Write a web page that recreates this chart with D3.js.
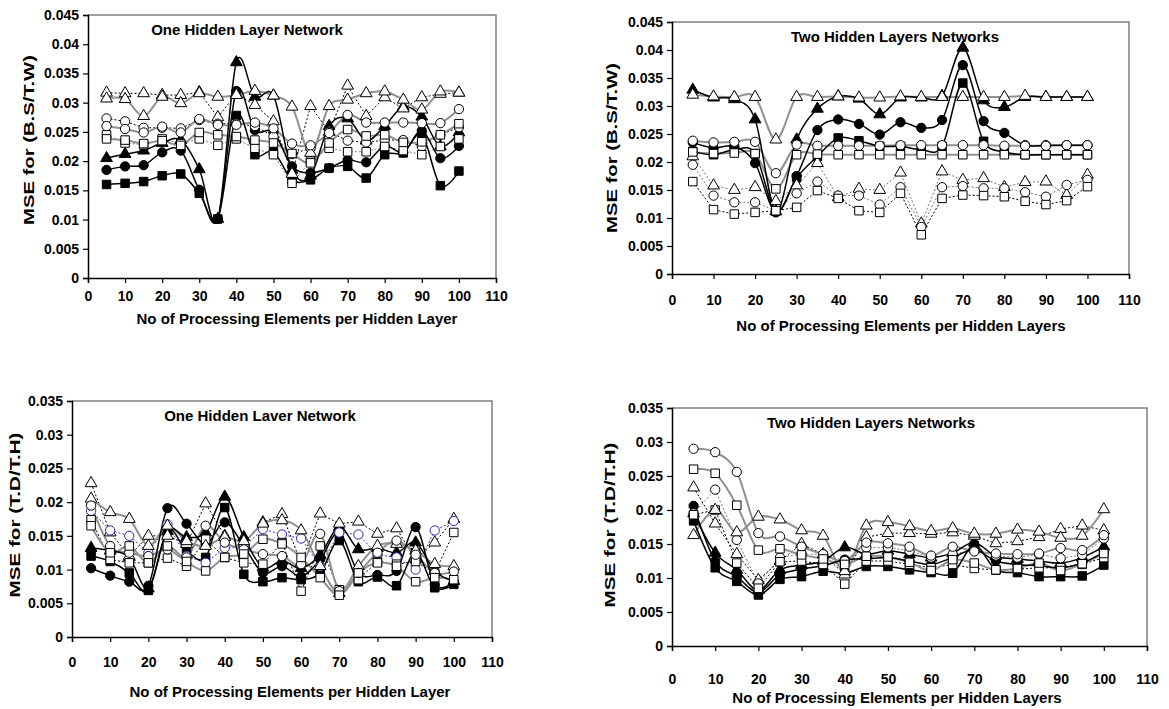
<!DOCTYPE html>
<html>
<head>
<meta charset="utf-8">
<script src="https://cdn.jsdelivr.net/npm/d3@7"></script>
<style>
  body { margin: 0; background: #fff; }
  svg { display: block; font-family: "Liberation Sans", Arial, sans-serif; }
</style>
</head>
<body>
<div id="chart"></div>
<script>
// processing elements per hidden layer
const pe = [5, 10, 15, 20, 25, 30, 35, 40, 45, 50, 55, 60, 65, 70, 75, 80, 85, 90, 95, 100];

// panel 1: B.S/T.W, one hidden layer
const bsOneFilledTri = [.0205,.0212,.0218,.0231,.0236,.0186,.0101,.0369,.0310,.0312,.0185,.0175,.0260,.0273,.0235,.0260,.0293,.0276,.0225,.0249];
const bsOneFilledCir = [.0185,.0191,.0193,.0215,.0218,.0151,.0101,.0320,.0253,.0250,.0191,.0180,.0188,.0202,.0198,.0226,.0215,.0252,.0205,.0226];
const bsOneFilledSq  = [.0160,.0162,.0165,.0175,.0178,.0145,.0101,.0278,.0211,.0216,.0168,.0168,.0188,.0191,.0171,.0211,.0214,.0245,.0158,.0183];
const bsOneGrayTri   = [.0307,.0306,.0277,.0310,.0299,.0316,.0310,.0313,.0320,.0312,.0293,.0214,.0294,.0305,.0316,.0319,.0305,.0288,.0319,.0317];
const bsOneGrayCir   = [.0260,.0255,.0249,.0259,.0249,.0272,.0262,.0262,.0266,.0256,.0230,.0227,.0248,.0279,.0266,.0266,.0266,.0265,.0265,.0289];
const bsOneGraySq    = [.0238,.0236,.0230,.0235,.0227,.0249,.0245,.0242,.0236,.0231,.0213,.0197,.0231,.0254,.0243,.0245,.0232,.0233,.0245,.0264];
const bsOneDotTri    = [.0317,.0316,.0316,.0313,.0313,.0318,.0275,.0315,.0296,.0268,.0178,.0294,.0250,.0329,.0277,.0309,.0290,.0309,.0315,.0317];
const bsOneDotCir    = [.0273,.0268,.0257,.0257,.0256,.0270,.0264,.0264,.0260,.0242,.0212,.0222,.0250,.0235,.0232,.0236,.0236,.0225,.0245,.0258];
const bsOneDotSq     = [.0245,.0231,.0228,.0238,.0230,.0238,.0227,.0238,.0222,.0211,.0162,.0200,.0222,.0216,.0216,.0225,.0218,.0211,.0225,.0238];

// panel 2: B.S/T.W, two hidden layers
const bsTwoFilledTri = [.0329,.0315,.0312,.0276,.0112,.0240,.0295,.0317,.0313,.0285,.0315,.0315,.0318,.0404,.0310,.0298,.0316,.0316,.0316,.0316];
const bsTwoFilledCir = [.0235,.0225,.0228,.0198,.0110,.0175,.0257,.0276,.0268,.0249,.0271,.0261,.0275,.0373,.0273,.0252,.0230,.0230,.0230,.0230];
const bsTwoFilledSq  = [.0219,.0213,.0222,.0215,.0112,.0172,.0210,.0243,.0238,.0228,.0228,.0222,.0228,.0341,.0237,.0218,.0213,.0213,.0213,.0213];
const bsTwoGrayTri   = [.0320,.0317,.0316,.0316,.0240,.0316,.0316,.0317,.0315,.0315,.0317,.0316,.0316,.0316,.0316,.0316,.0318,.0316,.0316,.0316];
const bsTwoGrayCir   = [.0238,.0235,.0236,.0236,.0180,.0231,.0229,.0229,.0229,.0229,.0230,.0230,.0230,.0230,.0230,.0229,.0229,.0229,.0230,.0230];
const bsTwoGraySq    = [.0218,.0215,.0216,.0215,.0152,.0213,.0214,.0213,.0213,.0213,.0213,.0213,.0213,.0213,.0213,.0213,.0213,.0213,.0213,.0213];
const bsTwoDotTri    = [.0210,.0158,.0150,.0155,.0130,.0158,.0198,.0137,.0152,.0150,.0181,.0090,.0183,.0168,.0171,.0155,.0164,.0165,.0141,.0177];
const bsTwoDotCir    = [.0195,.0140,.0128,.0128,.0113,.0144,.0165,.0140,.0140,.0124,.0155,.0084,.0155,.0157,.0153,.0153,.0146,.0138,.0159,.0168];
const bsTwoDotSq     = [.0165,.0115,.0107,.0110,.0113,.0119,.0149,.0135,.0113,.0110,.0144,.0070,.0135,.0141,.0140,.0138,.0130,.0124,.0131,.0156];

// panel 3: T.D/T.H, one hidden layer
const tdOneFilledTri = [.0132,.0128,.0118,.0072,.0157,.0148,.0155,.0208,.0148,.0103,.0113,.0102,.0122,.0163,.0130,.0132,.0125,.0140,.0098,.0083];
const tdOneFilledCir = [.0102,.0091,.0082,.0076,.0191,.0168,.0138,.0170,.0135,.0095,.0105,.0090,.0115,.0155,.0095,.0092,.0098,.0163,.0078,.0082];
const tdOneFilledSq  = [.0120,.0112,.0095,.0069,.0158,.0128,.0118,.0192,.0093,.0082,.0088,.0085,.0095,.0143,.0082,.0089,.0076,.0125,.0073,.0078];
const tdOneGrayTri   = [.0205,.0185,.0175,.0135,.0165,.0142,.0135,.0148,.0142,.0168,.0173,.0158,.0105,.0065,.0105,.0135,.0138,.0128,.0108,.0105];
const tdOneGrayCir   = [.0195,.0135,.0125,.0120,.0130,.0118,.0165,.0140,.0130,.0123,.0120,.0108,.0153,.0068,.0095,.0125,.0143,.0122,.0095,.0097];
const tdOneGraySq    = [.0165,.0125,.0135,.0110,.0135,.0112,.0098,.0118,.0123,.0145,.0138,.0118,.0088,.0062,.0095,.0110,.0105,.0082,.0088,.0085];
const tdOneDotTri    = [.0228,.0155,.0120,.0150,.0150,.0138,.0198,.0150,.0140,.0170,.0182,.0110,.0183,.0168,.0171,.0153,.0161,.0115,.0140,.0175];
const tdOneDotCir    = [.0187,.0158,.0150,.0125,.0167,.0120,.0110,.0132,.0133,.0160,.0152,.0146,.0105,.0155,.0152,.0122,.0118,.0100,.0158,.0172];
const tdOneDotSq     = [.0174,.0115,.0110,.0110,.0117,.0105,.0145,.0118,.0110,.0108,.0140,.0068,.0135,.0070,.0085,.0112,.0108,.0112,.0095,.0155];

// panel 4: T.D/T.H, two hidden layers
const tdTwoFilledTri = [.0195,.0137,.0112,.0082,.0112,.0119,.0125,.0145,.0135,.0140,.0135,.0130,.0137,.0152,.0132,.0128,.0125,.0122,.0130,.0146];
const tdTwoFilledCir = [.0206,.0125,.0102,.0079,.0105,.0113,.0118,.0127,.0128,.0130,.0125,.0120,.0130,.0142,.0125,.0120,.0118,.0115,.0122,.0138];
const tdTwoFilledSq  = [.0184,.0115,.0095,.0075,.0098,.0102,.0110,.0107,.0117,.0117,.0112,.0108,.0107,.0148,.0112,.0108,.0102,.0102,.0103,.0119];
const tdTwoGrayTri   = [.0163,.0200,.0167,.0190,.0186,.0170,.0162,.0110,.0177,.0182,.0176,.0169,.0173,.0165,.0165,.0171,.0168,.0159,.0162,.0201];
const tdTwoGrayCir   = [.0290,.0285,.0256,.0166,.0161,.0146,.0135,.0125,.0152,.0151,.0146,.0133,.0146,.0139,.0136,.0135,.0136,.0144,.0141,.0163];
const tdTwoGraySq    = [.0260,.0254,.0207,.0141,.0143,.0134,.0128,.0120,.0132,.0131,.0123,.0111,.0127,.0122,.0112,.0114,.0122,.0111,.0121,.0136];
const tdTwoDotTri    = [.0233,.0180,.0135,.0097,.0125,.0150,.0135,.0105,.0160,.0166,.0166,.0165,.0167,.0162,.0151,.0154,.0160,.0172,.0177,.0170];
const tdTwoDotCir    = [.0195,.0230,.0156,.0092,.0130,.0135,.0135,.0125,.0145,.0145,.0140,.0130,.0135,.0140,.0133,.0130,.0135,.0129,.0134,.0158];
const tdTwoDotSq     = [.0193,.0200,.0122,.0085,.0124,.0125,.0120,.0091,.0125,.0125,.0120,.0115,.0120,.0114,.0112,.0113,.0115,.0115,.0120,.0130];

const xTicks = d3.range(0, 111, 10);

const width = 1169, height = 709;
const svg = d3.select("#chart").append("svg")
  .attr("width", width).attr("height", height);

const symbolSize = { tri: 60, circle: 68, square: 72 };
const symbolType = { tri: d3.symbolTriangle, circle: d3.symbolCircle, square: d3.symbolSquare };

function drawPanel(cfg) {
  const x = d3.scaleLinear().domain([0, 110]).range([cfg.left, cfg.right]);
  const y = d3.scaleLinear().domain([0, cfg.yMax]).range([cfg.bottom, cfg.top]);
  const g = svg.append("g");

  // frame: grey top/right
  g.append("path")
    .attr("d", `M${cfg.left},${cfg.top}H${cfg.right}V${cfg.bottom}`)
    .attr("fill", "none").attr("stroke", "#808080").attr("stroke-width", 1.5);

  const yTicks = d3.range(0, cfg.yMax + 1e-9, 0.005);
  const yAxis = g.append("g").attr("transform", `translate(${cfg.left},0)`)
    .call(d3.axisLeft(y).tickValues(yTicks).tickSize(5).tickPadding(4)
      .tickFormat(d => d === 0 ? "0" : String(+d.toFixed(3))));
  const xAxis = g.append("g").attr("transform", `translate(0,${cfg.bottom})`)
    .call(d3.axisBottom(x).tickValues(xTicks).tickSize(5).tickPadding(cfg.xPad));
  [yAxis, xAxis].forEach(a => {
    a.select(".domain").attr("stroke", "#000").attr("stroke-width", 1.5);
    a.selectAll(".tick line").attr("stroke", "#000").attr("stroke-width", 1.2);
    a.selectAll(".tick text").attr("fill", "#000")
      .attr("font-size", 14).attr("font-weight", "bold")
      .attr("font-family", "Liberation Sans, Arial, sans-serif");
  });

  const smooth = d3.line().x((d, i) => x(pe[i])).y(d => y(d)).curve(d3.curveCatmullRom.alpha(0));
  const straight = d3.line().x((d, i) => x(pe[i])).y(d => y(d));

  const dotted = cfg.series.filter(s => s.kind === "dot");
  const gray = cfg.series.filter(s => s.kind === "gray");
  const black = cfg.series.filter(s => s.kind === "black");

  g.selectAll(".dotline").data(dotted).join("path")
    .attr("d", s => straight(s.vals))
    .attr("fill", "none").attr("stroke", s => s.color)
    .attr("stroke-width", 1).attr("stroke-dasharray", "2,2");
  g.selectAll(".grayline").data(gray).join("path")
    .attr("d", s => smooth(s.vals))
    .attr("fill", "none").attr("stroke", "#909090").attr("stroke-width", 2);
  g.selectAll(".blackline").data(black).join("path")
    .attr("d", s => smooth(s.vals))
    .attr("fill", "none").attr("stroke", "#000").attr("stroke-width", 1.5);

  // markers: filled first, open ones on top
  [black, dotted, gray].forEach(group => {
    group.forEach(s => {
      g.append("g").selectAll("path").data(s.vals).join("path")
        .attr("transform", (d, i) => `translate(${x(pe[i])},${y(d)})`)
        .attr("d", d3.symbol(symbolType[s.marker], symbolSize[s.marker]))
        .attr("fill", s.kind === "black" ? "#000" : "#fff")
        .attr("stroke", s.markerStroke || "#000")
        .attr("stroke-width", 1);
    });
  });

  g.append("text")
    .attr("x", cfg.titleX).attr("y", cfg.titleY)
    .attr("text-anchor", "middle").attr("font-size", 15).attr("font-weight", "bold")
    .text(cfg.title);
  g.append("text")
    .attr("x", cfg.xTitleX).attr("y", cfg.xTitleY)
    .attr("text-anchor", "middle").attr("font-size", 15).attr("font-weight", "bold")
    .text(cfg.xTitle);
  g.append("text")
    .attr("transform", `translate(${cfg.yTitleX},${cfg.yTitleY}) rotate(-90)`)
    .attr("text-anchor", "middle").attr("dy", "0.35em")
    .attr("font-size", 15).attr("font-weight", "bold")
    .attr("textLength", cfg.yTitleLen).attr("lengthAdjust", "spacingAndGlyphs")
    .text(cfg.yTitle);
}

function seriesSet(ft, fc, fs, gt, gc, gs, dt, dc, ds, dotColors, dcStroke) {
  return [
    { vals: dt, marker: "tri", kind: "dot", color: dotColors[0] },
    { vals: dc, marker: "circle", kind: "dot", color: dotColors[1], markerStroke: dcStroke },
    { vals: ds, marker: "square", kind: "dot", color: dotColors[2] },
    { vals: gt, marker: "tri", kind: "gray" },
    { vals: gc, marker: "circle", kind: "gray" },
    { vals: gs, marker: "square", kind: "gray" },
    { vals: ft, marker: "tri", kind: "black" },
    { vals: fc, marker: "circle", kind: "black" },
    { vals: fs, marker: "square", kind: "black" }
  ];
}

drawPanel({
  left: 88, right: 496, top: 15, bottom: 278, yMax: 0.045, xPad: 8,
  title: "One Hidden Layer Network", titleX: 247, titleY: 35,
  xTitle: "No of Processing Elements per Hidden Layer", xTitleX: 297, xTitleY: 324,
  yTitle: "MSE for (B.S/T.W)", yTitleX: 29, yTitleY: 140, yTitleLen: 170,
  series: seriesSet(bsOneFilledTri, bsOneFilledCir, bsOneFilledSq, bsOneGrayTri, bsOneGrayCir, bsOneGraySq,
    bsOneDotTri, bsOneDotCir, bsOneDotSq, ["#000", "#000", "#777"])
});
drawPanel({
  left: 672, right: 1129, top: 22, bottom: 274, yMax: 0.045, xPad: 16,
  title: "Two Hidden Layers Networks", titleX: 895, titleY: 42,
  xTitle: "No of Processing Elements per Hidden Layers", xTitleX: 901, xTitleY: 331,
  yTitle: "MSE for (B.S/T.W)", yTitleX: 612, yTitleY: 148, yTitleLen: 170,
  series: seriesSet(bsTwoFilledTri, bsTwoFilledCir, bsTwoFilledSq, bsTwoGrayTri, bsTwoGrayCir, bsTwoGraySq,
    bsTwoDotTri, bsTwoDotCir, bsTwoDotSq, ["#777", "#777", "#000"])
});
drawPanel({
  left: 72, right: 492, top: 401, bottom: 637, yMax: 0.035, xPad: 15,
  title: "One Hidden Laver Network", titleX: 260, titleY: 421,
  xTitle: "No of Processing Elements per Hidden Layer", xTitleX: 290, xTitleY: 697,
  yTitle: "MSE for (T.D/T.H)", yTitleX: 15, yTitleY: 515, yTitleLen: 165,
  series: seriesSet(tdOneFilledTri, tdOneFilledCir, tdOneFilledSq, tdOneGrayTri, tdOneGrayCir, tdOneGraySq,
    tdOneDotTri, tdOneDotCir, tdOneDotSq, ["#000", "#3333cc", "#000"], "#2a2ab0")
});
drawPanel({
  left: 672, right: 1147, top: 408, bottom: 646, yMax: 0.035, xPad: 23,
  title: "Two Hidden Layers Networks", titleX: 871, titleY: 428,
  xTitle: "No of Processing Elements per Hidden Layers", xTitleX: 897, xTitleY: 703,
  yTitle: "MSE for (T.D/T.H)", yTitleX: 610, yTitleY: 525, yTitleLen: 165,
  series: seriesSet(tdTwoFilledTri, tdTwoFilledCir, tdTwoFilledSq, tdTwoGrayTri, tdTwoGrayCir, tdTwoGraySq,
    tdTwoDotTri, tdTwoDotCir, tdTwoDotSq, ["#000", "#777", "#000"])
});
</script>
</body>
</html>
